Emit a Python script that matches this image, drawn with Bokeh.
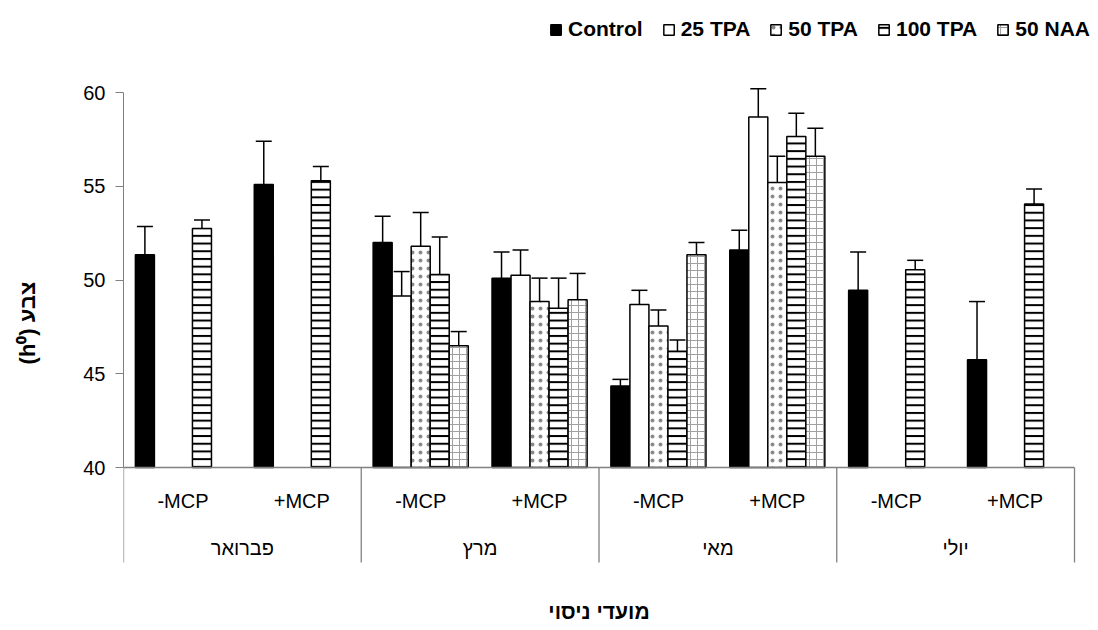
from bokeh.plotting import figure
from bokeh.models import (ColumnDataSource, Range1d, FixedTicker, Whisker, TeeHead,
                          Legend, LegendItem)
from bokeh.core.properties import value
from bokeh.embed import file_html
from bokeh.resources import INLINE

# ---------------- data ----------------
months = ["פברואר", "מרץ", "מאי", "יולי"]
mcp_levels = ["-MCP", "+MCP"]
treatments = ["Control", "25 TPA", "50 TPA", "100 TPA", "50 NAA"]

# subgroup order: Feb-, Feb+, Mar-, Mar+, May-, May+, Jul-, Jul+
control     = [51.35, 55.10, 52.00, 50.10, 44.35, 51.60, 49.45, 45.75]
control_err = [1.50, 2.30, 1.40, 1.40, 0.35, 1.05, 2.05, 3.10]
tpa25       = [None, None, 49.15, 50.25, 48.70, 58.70, None, None]
tpa25_err   = [None, None, 1.30, 1.35, 0.75, 1.50, None, None]
tpa50       = [None, None, 51.80, 48.85, 47.55, 55.20, None, None]
tpa50_err   = [None, None, 1.80, 1.25, 0.85, 1.40, None, None]
tpa100      = [52.75, 55.30, 50.30, 48.50, 46.20, 57.65, 50.55, 54.05]
tpa100_err  = [0.45, 0.75, 2.00, 1.60, 0.60, 1.25, 0.50, 0.80]
naa50       = [None, None, 46.50, 48.95, 51.35, 56.60, None, None]
naa50_err   = [None, None, 0.75, 1.40, 0.65, 1.50, None, None]

y_ticks = [40, 45, 50, 55, 60]

series = [control, tpa25, tpa50, tpa100, naa50]
errors = [control_err, tpa25_err, tpa50_err, tpa100_err, naa50_err]

# ---------------- styles ----------------
BASE = 40
BAR_W = 0.16
GRAY = "#808080"
styles = [
    dict(fill_color="black", hatch_pattern=None),
    dict(fill_color="white", hatch_pattern=None),
    dict(fill_color="white", hatch_pattern="dot", hatch_scale=8, hatch_weight=0.6, hatch_color="#8a8a8a"),
    dict(fill_color="white", hatch_pattern="horizontal_line", hatch_scale=7.7, hatch_weight=2, hatch_color="black"),
    dict(fill_color="white", hatch_pattern="cross", hatch_scale=7, hatch_weight=1, hatch_color="#a0a0a0"),
]

n_sub = len(months) * len(mcp_levels)
px_per_unit = 951 / n_sub      # horizontal pixels per sub-group
px_per_val = 18.75             # vertical pixels per unit of value
y0_px, top_px, bot_px = 467, 17, 628
frame_w = 967
frame_h = bot_px - top_px

def val_at(py):
    return BASE + (y0_px - py) / px_per_val

p = figure(frame_width=frame_w, frame_height=frame_h,
           x_range=Range1d(0, frame_w / px_per_unit),
           y_range=Range1d(val_at(bot_px), val_at(top_px)),
           min_border_left=123, min_border_right=0, min_border_top=top_px, min_border_bottom=0,
           output_backend="svg", toolbar_location=None, x_axis_type=None)
p.outline_line_color = None
p.ygrid.grid_line_color = None
p.background_fill_color = "white"
p.border_fill_color = "white"

yax = p.yaxis[0]
yax.bounds = (40, 60)
yax.ticker = FixedTicker(ticks=y_ticks)
yax.minor_tick_line_color = None
yax.axis_line_color = GRAY
yax.major_tick_line_color = GRAY
yax.major_tick_out = 8
yax.major_tick_in = 0
yax.major_label_standoff = 10
yax.major_label_text_font = "Liberation Sans"
yax.major_label_text_font_size = "20px"
yax.major_label_text_color = "black"
yax.axis_label = "(h⁰) צבע"
yax.axis_label_text_font = "Liberation Sans"
yax.axis_label_text_font_style = "bold"
yax.axis_label_text_font_size = "22px"
yax.axis_label_text_color = "black"
yax.axis_label_standoff = 40

# ---------------- bars ----------------
items = []
for i, (vals, errs, st, name) in enumerate(zip(series, errors, styles, treatments)):
    xs, tops, uppers = [], [], []
    for s, (v, e) in enumerate(zip(vals, errs)):
        if v is None:
            continue
        xs.append(s + 0.5 + (i - 2) * BAR_W)
        tops.append(v)
        uppers.append(v + e)
    src = ColumnDataSource(dict(x=xs, top=tops, upper=uppers))
    kw = dict(x="x", top="top", bottom=BASE, width=BAR_W, source=src,
              line_color="black", line_width=1.5, fill_color=st["fill_color"])
    if st["hatch_pattern"]:
        kw.update(hatch_pattern=st["hatch_pattern"], hatch_scale=st["hatch_scale"],
                  hatch_weight=st["hatch_weight"], hatch_color=st["hatch_color"])
    r = p.vbar(**kw)
    items.append(LegendItem(label=name, renderers=[r]))
    w = Whisker(source=src, base="x", lower="top", upper="upper", dimension="height",
                line_color="black", line_width=1.5,
                upper_head=TeeHead(size=16, line_color="black", line_width=1.5),
                lower_head=None, level="overlay")
    p.add_layout(w)

# ---------------- category axis ----------------
sep_bottom = val_at(562)
p.segment(x0=[0], y0=[BASE], x1=[n_sub], y1=[BASE], line_color=GRAY, line_width=1.3)
sep_x = [k * len(mcp_levels) for k in range(len(months) + 1)]
p.segment(x0=sep_x, y0=[BASE] * len(sep_x), x1=sep_x, y1=[sep_bottom] * len(sep_x),
          line_color=GRAY, line_width=1.3)

sub_x = [s + 0.5 for s in range(n_sub)]
sub_lab = [mcp_levels[s % 2] for s in range(n_sub)]
p.text(x=sub_x, y=[val_at(500)] * n_sub, text=sub_lab,
       text_align="center", text_baseline="middle",
       text_font=value("Liberation Sans"), text_font_size="20px", text_color="black")

mon_x = [k * 2 + 1 for k in range(len(months))]
p.text(x=mon_x, y=[val_at(547)] * len(months), text=months,
       text_align="center", text_baseline="middle",
       text_font=value("Liberation Sans"), text_font_size="20px", text_color="black")

p.text(x=[n_sub / 2], y=[val_at(611)], text=["מועדי ניסוי"],
       text_align="center", text_baseline="middle",
       text_font=value("Liberation Sans"), text_font_size="21px",
       text_font_style="bold", text_color="black")

# ---------------- legend ----------------
legend = Legend(items=items, location="top_right", orientation="horizontal",
                margin=0, padding=0, spacing=19, label_standoff=6,
                glyph_width=13, glyph_height=13, label_height=20,
                label_text_font="Liberation Sans", label_text_font_style="bold",
                label_text_font_size="21px", label_text_color="black",
                border_line_color=None, background_fill_alpha=0)
p.add_layout(legend)

open("out.html", "w").write(file_html(p, INLINE))
